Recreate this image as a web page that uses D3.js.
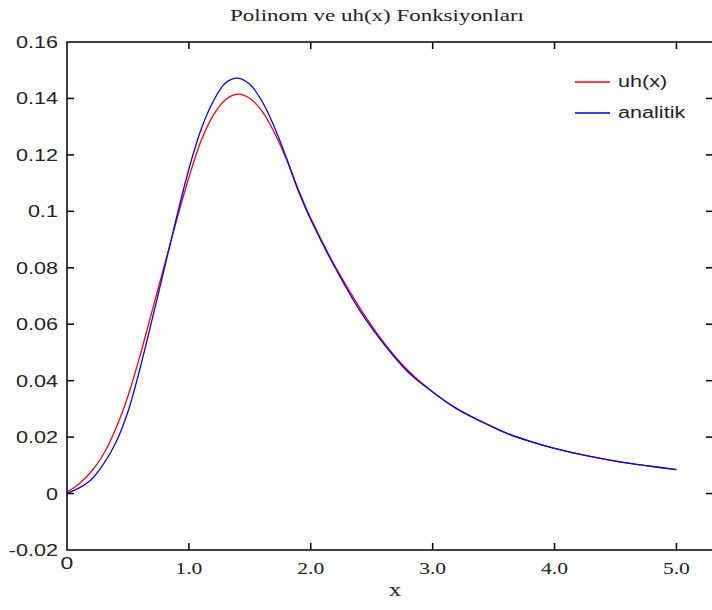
<!DOCTYPE html>
<html>
<head>
<meta charset="utf-8">
<script src="https://cdn.jsdelivr.net/npm/d3@7"></script>
<style>
  body { margin: 0; background: #fff; }
  svg { display: block; }
</style>
</head>
<body>
<div id="chart"></div>
<script>
// x positions
const xs = [0, 0.1, 0.2, 0.3, 0.4, 0.5, 0.6, 0.7, 0.8, 0.9, 1.0, 1.1, 1.2, 1.3, 1.4, 1.5,
  1.6, 1.7, 1.8, 1.9, 2.0, 2.2, 2.4, 2.6, 2.8, 3.0, 3.2, 3.4, 3.6, 3.8, 4.0, 4.25, 4.5, 4.75, 5.0];

// uh(x) (red)
const uhValues = [0.0005, 0.0035, 0.0078, 0.0140, 0.0230, 0.0345, 0.0490, 0.065, 0.081, 0.097,
  0.112, 0.125, 0.134, 0.1395, 0.1415, 0.140, 0.1355, 0.128, 0.1185, 0.1075, 0.0975, 0.0805,
  0.066, 0.0535, 0.0435, 0.036, 0.030, 0.0255, 0.0215, 0.0185, 0.016, 0.0135, 0.0115, 0.0099, 0.0085];

// analitik (blue)
const analitikValues = [0, 0.0020, 0.0050, 0.0105, 0.0180, 0.0290, 0.0445, 0.062, 0.080, 0.098,
  0.115, 0.129, 0.139, 0.1455, 0.1472, 0.145, 0.139, 0.130, 0.119, 0.107, 0.097, 0.080,
  0.065, 0.053, 0.043, 0.036, 0.030, 0.0255, 0.0215, 0.0185, 0.016, 0.0135, 0.0115, 0.0099, 0.0085];

const seriesNames = ['uh(x)', 'analitik'];
const seriesColors = ['#ff0000', '#0000ff'];

const xTicks = [0, 1, 2, 3, 4, 5];
const xTickLabels = ['0', '1.0', '2.0', '3.0', '4.0', '5.0'];
const yTicks = [-0.02, 0, 0.02, 0.04, 0.06, 0.08, 0.1, 0.12, 0.14, 0.16];
const yTickLabels = ['-0.02', '0', '0.02', '0.04', '0.06', '0.08', '0.1', '0.12', '0.14', '0.16'];

const width = 712, height = 610;
const box = { left: 67, right: 713, top: 42, bottom: 550 };
const stretch = 1.35; // text in the picture is drawn wide

const svg = d3.select('#chart').append('svg')
  .attr('width', width)
  .attr('height', height);

const x = d3.scaleLinear().domain([0, 5.3]).range([box.left, box.right]);
const y = d3.scaleLinear().domain([-0.02, 0.16]).range([box.bottom, box.top]);

// widen a text element to match the stretched look
function widen(sel) {
  sel.each(function () {
    const w = this.getComputedTextLength();
    d3.select(this).attr('textLength', w * stretch).attr('lengthAdjust', 'spacingAndGlyphs');
  });
}

// curves
const line = d3.line()
  .x(d => x(d[0]))
  .y(d => y(d[1]))
  .curve(d3.curveCatmullRom.alpha(0.5));

[uhValues, analitikValues].forEach((vals, i) => {
  svg.append('path')
    .datum(xs.map((v, j) => [v, vals[j]]))
    .attr('fill', 'none')
    .attr('stroke', seriesColors[i])
    .attr('stroke-width', 1.3)
    .attr('d', line);
});

// box + inward ticks
const axisColor = '#000';
svg.append('rect')
  .attr('x', box.left).attr('y', box.top)
  .attr('width', box.right - box.left).attr('height', box.bottom - box.top)
  .attr('fill', 'none').attr('stroke', axisColor).attr('stroke-width', 1.5);

const tickLen = 7;
const g = svg.append('g').attr('stroke', axisColor).attr('stroke-width', 1.5);
xTicks.slice(1).forEach(t => {
  g.append('line').attr('x1', x(t)).attr('x2', x(t)).attr('y1', box.bottom).attr('y2', box.bottom - tickLen);
  g.append('line').attr('x1', x(t)).attr('x2', x(t)).attr('y1', box.top).attr('y2', box.top + tickLen);
});
yTicks.slice(1, -1).forEach(t => {
  g.append('line').attr('x1', box.left).attr('x2', box.left + tickLen).attr('y1', y(t)).attr('y2', y(t));
  g.append('line').attr('x1', box.right).attr('x2', box.right - tickLen).attr('y1', y(t)).attr('y2', y(t));
});

// y tick labels
svg.append('g').selectAll('text')
  .data(yTicks)
  .join('text')
  .attr('x', box.left - 9)
  .attr('y', d => y(d) + 6)
  .attr('text-anchor', 'end')
  .attr('font-family', 'Liberation Sans, Arial, sans-serif')
  .attr('font-size', 16)
  .attr('fill', '#222')
  .text((d, i) => yTickLabels[i])
  .call(widen);

// x tick labels
svg.append('g').selectAll('text')
  .data(xTicks)
  .join('text')
  .attr('x', d => x(d))
  .attr('y', d => d === 0 ? 569 : 574)
  .attr('text-anchor', 'middle')
  .attr('font-family', d => d === 0 ? 'Liberation Sans, Arial, sans-serif' : 'Liberation Serif, Times New Roman, serif')
  .attr('font-size', d => d === 0 ? 17 : 16)
  .attr('fill', '#222')
  .text((d, i) => xTickLabels[i])
  .call(widen);

// x label
svg.append('text')
  .attr('x', 395).attr('y', 596)
  .attr('text-anchor', 'middle')
  .attr('font-family', 'Liberation Serif, Times New Roman, serif')
  .attr('font-size', 18)
  .attr('fill', '#222')
  .text('x')
  .call(widen);

// title
svg.append('text')
  .attr('x', 377).attr('y', 21)
  .attr('text-anchor', 'middle')
  .attr('font-family', 'Liberation Serif, Times New Roman, serif')
  .attr('font-size', 17)
  .attr('fill', '#222')
  .text('Polinom ve uh(x) Fonksiyonları')
  .call(widen);

// legend
const legend = svg.append('g').attr('transform', 'translate(575,82)');
seriesNames.forEach((name, i) => {
  const row = legend.append('g').attr('transform', `translate(0,${i * 31})`);
  row.append('line')
    .attr('x1', 0).attr('x2', 35).attr('y1', 0).attr('y2', 0)
    .attr('stroke', seriesColors[i]).attr('stroke-width', 1.3);
  row.append('text')
    .attr('x', 43).attr('y', 5)
    .attr('font-family', 'Liberation Sans, Arial, sans-serif')
    .attr('font-size', 16)
    .attr('fill', '#222')
    .text(name)
    .call(widen);
});
</script>
</body>
</html>
